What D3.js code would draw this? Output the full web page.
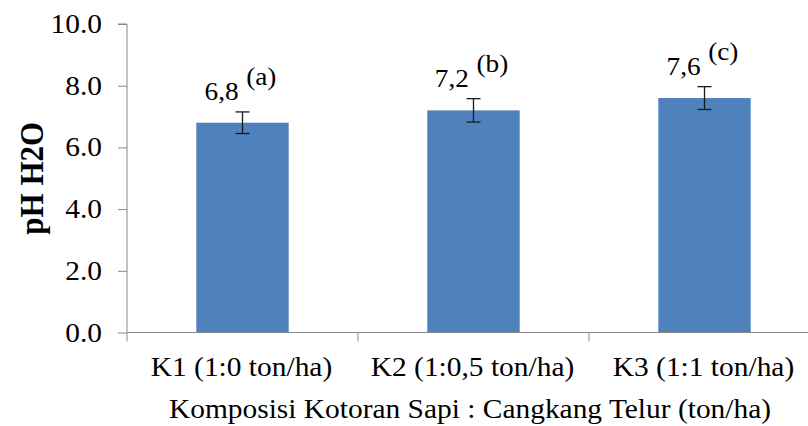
<!DOCTYPE html>
<html>
<head>
<meta charset="utf-8">
<script src="https://cdn.jsdelivr.net/npm/d3@7"></script>
<style>
  html, body { margin: 0; padding: 0; background: #fff; }
  svg { display: block; }
</style>
</head>
<body>
<svg id="chart" width="808" height="426"></svg>
<script>
// pH H2O per treatment (cow manure : eggshell composition)
const categories = ["K1 (1:0 ton/ha)", "K2 (1:0,5 ton/ha)", "K3 (1:1 ton/ha)"];
const values = [6.8, 7.2, 7.6];
const errors = [0.35, 0.38, 0.37];
const valueLabels = ["6,8", "7,2", "7,6"];
const letters = ["(a)", "(b)", "(c)"];
const yTicks = [0, 2, 4, 6, 8, 10];

const FONT = "'Liberation Serif', 'Times New Roman', serif";
const SX = 1.09; // slightly wide lettering
const svg = d3.select("#chart");
const plot = { left: 127, right: 820, top: 24, bottom: 332.5 };
const axisColor = "#898989";

const x = d3.scaleBand().domain(categories).range([plot.left, plot.right]).paddingInner(0.6).paddingOuter(0.3);
const xOuter = d3.scaleBand().domain(categories).range([plot.left, plot.right]);
const y = d3.scaleLinear().domain([0, 10]).range([plot.bottom, plot.top]);

// horizontal text placed at (px, py), widened by SX
function label(parent, px, py, size, anchor) {
  return parent.append("g").attr("transform", `translate(${px},${py}) scale(${SX},1)`)
    .append("text").attr("text-anchor", anchor).style("font-family", FONT)
    .attr("font-size", size).attr("fill", "#000");
}

// y axis
const yAxis = svg.append("g").attr("transform", `translate(${plot.left},0)`)
  .call(d3.axisLeft(y).tickValues(yTicks).tickSize(9).tickFormat(""));
yAxis.select(".domain").attr("stroke", axisColor).attr("d", `M-9,${plot.top}H0V${plot.bottom + 9}`);
yAxis.selectAll(".tick line").attr("stroke", axisColor);
yTicks.forEach(t => {
  label(svg, plot.left - 25, y(t) + 9, 27, "end").text(d3.format(".1f")(t));
});

// bars
svg.append("g").selectAll("rect").data(values).join("rect")
  .attr("x", (d, i) => x(categories[i]))
  .attr("width", x.bandwidth())
  .attr("y", d => y(d))
  .attr("height", d => y(0) - y(d))
  .attr("fill", "#4F81BD");

// x axis
const xAxis = svg.append("g").attr("transform", `translate(0,${plot.bottom})`);
xAxis.append("line").attr("x1", plot.left).attr("x2", plot.right).attr("stroke", axisColor);
xAxis.selectAll("line.tk").data(categories.slice(1)).join("line").attr("class", "tk")
  .attr("x1", d => xOuter(d)).attr("x2", d => xOuter(d)).attr("y1", 0).attr("y2", 9).attr("stroke", axisColor);
categories.forEach(c => {
  label(svg, xOuter(c) + xOuter.bandwidth() / 2 - 1, 376, 27, "middle").text(c);
});

// error bars
const eb = svg.append("g").attr("stroke", "#1a1a1a").attr("stroke-width", 1.3);
values.forEach((v, i) => {
  const cx = x(categories[i]) + x.bandwidth() / 2;
  const hi = y(v + errors[i]), lo = y(v - errors[i]);
  eb.append("line").attr("x1", cx).attr("x2", cx).attr("y1", hi).attr("y2", lo);
  eb.append("line").attr("x1", cx - 7).attr("x2", cx + 7).attr("y1", hi).attr("y2", hi);
  eb.append("line").attr("x1", cx - 7).attr("x2", cx + 7).attr("y1", lo).attr("y2", lo);
});

// value labels with significance letters
values.forEach((v, i) => {
  const cx = x(categories[i]) + x.bandwidth() / 2;
  const t = label(svg, cx - 2, y(v + errors[i]) - 12, 25, "middle");
  t.append("tspan").text(valueLabels[i]);
  t.append("tspan").attr("dx", 7).attr("dy", -15).text(letters[i]);
});

// axis titles
svg.append("text").attr("transform", `translate(43,${(plot.top + plot.bottom) / 2}) rotate(-90) scale(1,${SX})`)
  .attr("text-anchor", "middle").style("font-family", FONT).attr("font-size", 31)
  .attr("font-weight", "bold").text("pH H2O");
label(svg, 470, 418, 27, "middle").text("Komposisi Kotoran Sapi : Cangkang Telur (ton/ha)");
</script>
</body>
</html>
